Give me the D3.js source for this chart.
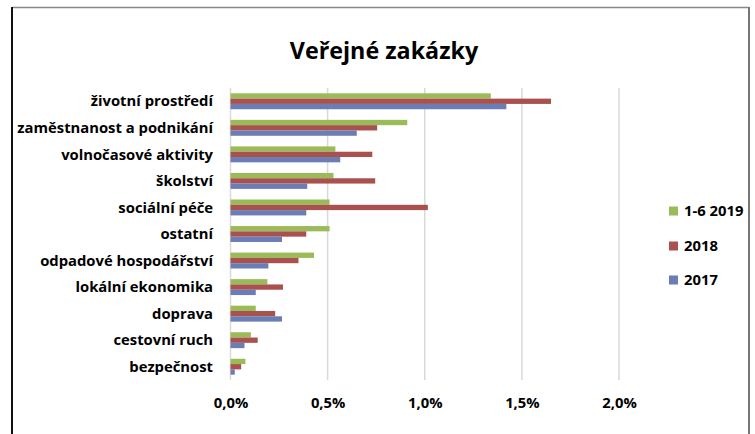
<!DOCTYPE html>
<html>
<head>
<meta charset="utf-8">
<script src="https://cdn.jsdelivr.net/npm/d3@7"></script>
<style>
  html, body { margin: 0; padding: 0; background: #fff; }
  svg text { font-family: "Open Sans", Lato, sans-serif; font-weight: bold; fill: #000; }
</style>
</head>
<body>
<svg id="chart" width="755" height="434"></svg>
<script>
const categories = ["životní prostředí", "zaměstnanost a podnikání", "volnočasové aktivity", "školství",
  "sociální péče", "ostatní", "odpadové hospodářství", "lokální ekonomika", "doprava", "cestovní ruch", "bezpečnost"];
const seriesNames = ["1-6 2019", "2018", "2017"];
const values2019 = [1.34, 0.91, 0.54, 0.53, 0.51, 0.51, 0.43, 0.19, 0.13, 0.105, 0.077];
const values2018 = [1.65, 0.755, 0.73, 0.745, 1.016, 0.39, 0.35, 0.27, 0.23, 0.14, 0.055];
const values2017 = [1.42, 0.65, 0.565, 0.395, 0.39, 0.265, 0.195, 0.13, 0.265, 0.072, 0.022];
const tickValues = [0, 0.5, 1.0, 1.5, 2.0];
const colors = ["#9BBB59", "#A9514E", "#6A7DB4"];

const svg = d3.select("#chart");
const W = 755, H = 434;

// frame
svg.append("line").attr("x1", 12).attr("x2", 749).attr("y1", 7.5).attr("y2", 7.5).attr("stroke", "#888").attr("stroke-width", 1.5);
svg.append("line").attr("x1", 749).attr("x2", 749).attr("y1", 7).attr("y2", H).attr("stroke", "#777").attr("stroke-width", 2);
svg.append("line").attr("x1", 12).attr("x2", 12).attr("y1", 7).attr("y2", H).attr("stroke", "#111").attr("stroke-width", 2);

// title
svg.append("text").attr("x", 384).attr("y", 59).attr("text-anchor", "middle")
  .style("font-size", "23.3px").text("Veřejné zakázky");

const x = d3.scaleLinear().domain([0, 2.0]).range([230.5, 619]);
const y = d3.scaleBand().domain(categories).range([88, 380]).paddingInner(0.4).paddingOuter(0.2);
const ySub = d3.scaleBand().domain(seriesNames).range([0, y.bandwidth()]);

// gridlines
svg.append("g").selectAll("line").data(tickValues).join("line")
  .attr("x1", d => x(d)).attr("x2", d => x(d)).attr("y1", 88).attr("y2", 380)
  .attr("stroke", "#D9D9D9").attr("stroke-width", 1.5);

const data = [values2019, values2018, values2017];
const g = svg.append("g");
seriesNames.forEach((s, si) => {
  g.append("g").selectAll("rect").data(categories).join("rect")
    .attr("x", x(0))
    .attr("y", c => y(c) + ySub(s))
    .attr("width", (c, i) => x(data[si][i]) - x(0))
    .attr("height", ySub.bandwidth())
    .attr("fill", colors[si]);
});

// category labels
const yAxis = d3.axisLeft(y).tickSize(0).tickPadding(0);
const ya = svg.append("g").attr("transform", "translate(213,0)").call(yAxis);
ya.select(".domain").remove();
ya.selectAll("text").style("font-size", "14.8px").attr("dy", "0.35em").attr("x", 0);

// x tick labels
const fmt = d => d.toFixed(1).replace(".", ",") + "%";
const xAxis = d3.axisBottom(x).tickValues(tickValues).tickFormat(fmt).tickSize(0).tickPadding(0);
const xa = svg.append("g").attr("transform", "translate(0,397)").call(xAxis);
xa.select(".domain").remove();
xa.selectAll("text").style("font-size", "14.8px").attr("dy", "0.71em");

// legend
const legY = [211, 246, 280];
const leg = svg.append("g").selectAll("g").data(seriesNames).join("g")
  .attr("transform", (d, i) => `translate(669,${legY[i]})`);
leg.append("rect").attr("x", 0).attr("y", -4.5).attr("width", 9).attr("height", 9).attr("fill", (d, i) => colors[i]);
leg.append("text").attr("x", 15).attr("dy", "0.35em").style("font-size", "14.8px").text(d => d);
</script>
</body>
</html>
